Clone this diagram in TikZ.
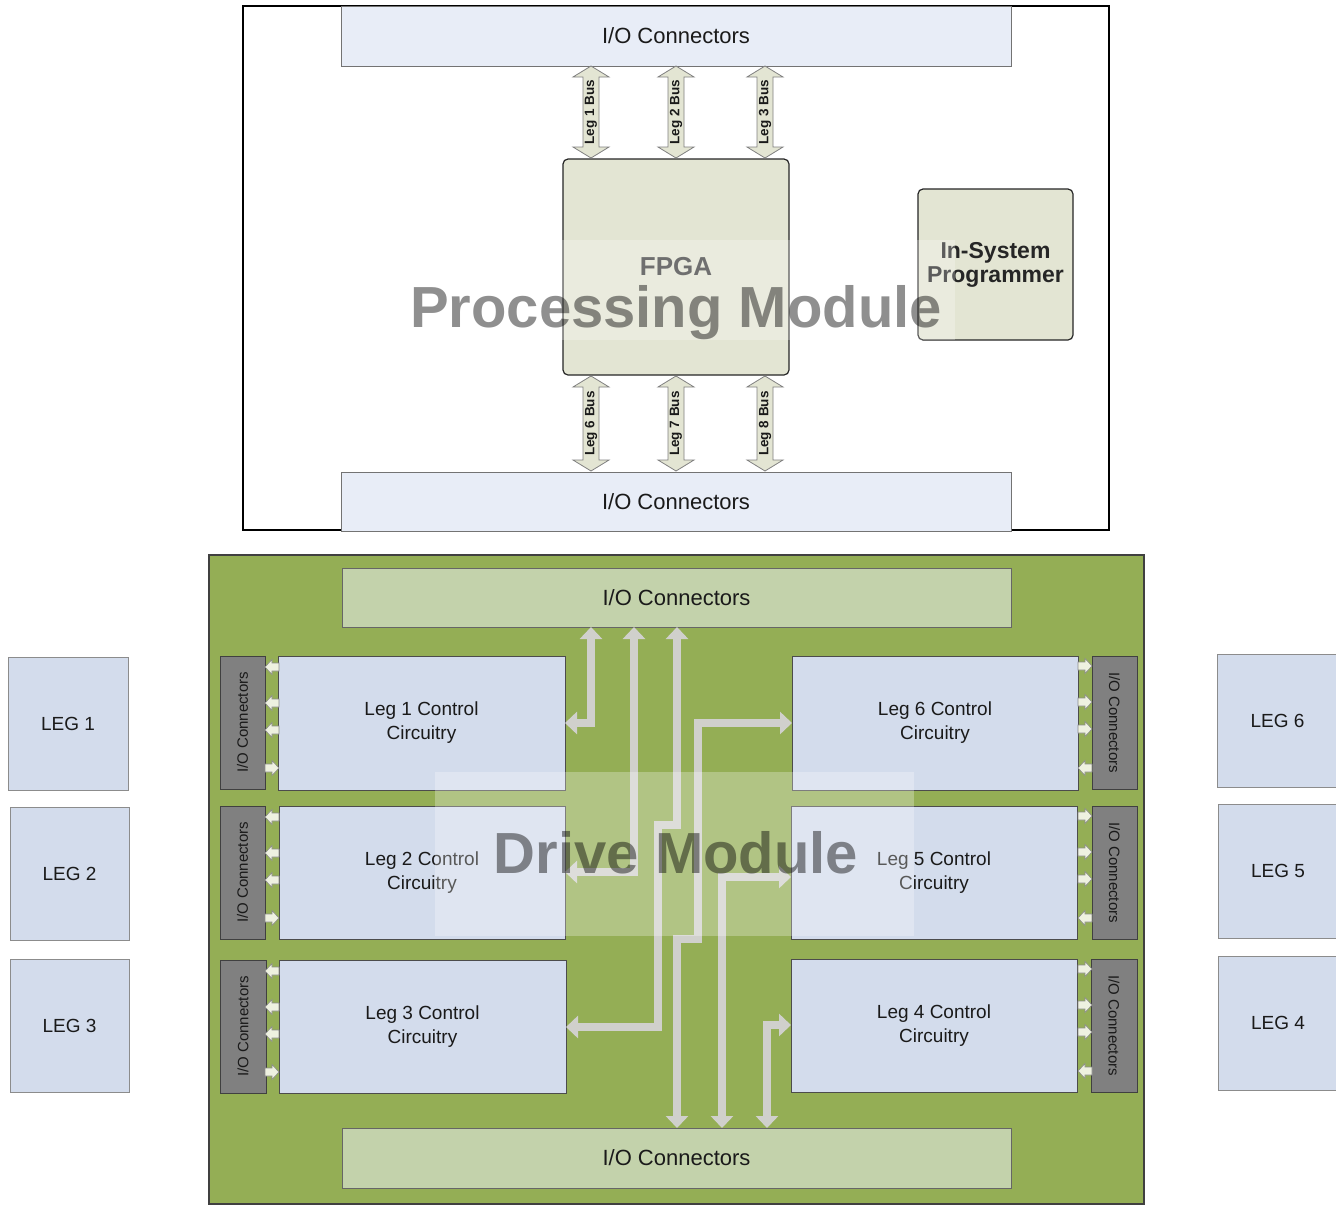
\documentclass[tikz,border=0pt]{standalone}
\usepackage{fontspec}
\setmainfont{Liberation Sans}
\usetikzlibrary{arrows.meta}
\definecolor{pioF}{HTML}{E8EDF7}
\definecolor{fpgaF}{HTML}{E3E5D3}
\definecolor{dmF}{HTML}{94AE55}
\definecolor{dioF}{HTML}{C3D2AB}
\definecolor{legF}{HTML}{D3DCEC}
\definecolor{barF}{HTML}{808080}
\definecolor{bigA}{HTML}{D0D0CC}
\definecolor{smA}{HTML}{EEF1E0}
\definecolor{txt}{HTML}{1A1A1A}
\newcommand\busarrow[5]{%
  \draw[bus] (#1,#2) -- ++(18,11) -- ++(-10,0) -- (#1+8,#3-11) -- ++(10,0) -- (#1,#3)
     -- ++(-18,-11) -- ++(10,0) -- (#1-8,#2+11) -- ++(-10,0) -- cycle;
  \node[buslab] (#4) at (#1,{(#2+#3)/2}) {#5};
}
\begin{document}
\begin{tikzpicture}[x=1pt,y=-1pt,
  box/.style={rectangle, inner sep=0pt, outer sep=0pt, text=txt, align=center},
  pio/.style={box, draw=black!55, line width=1pt, fill=pioF, minimum width=670pt, minimum height=60pt, font=\fontsize{22}{26}\selectfont},
  chip/.style={box, draw=black!85, line width=1.2pt, fill=fpgaF, rounded corners=5pt, font=\bfseries\fontsize{23}{24}\selectfont},
  bus/.style={draw=black!50, line width=0.8pt, fill=fpgaF},
  buslab/.style={rotate=90, font=\bfseries\fontsize{13.5}{14}\selectfont, text=txt, inner sep=0pt},
  dio/.style={pio, fill=dioF, draw=black!60},
  ctl/.style={box, draw=black!70, line width=1pt, fill=legF, minimum width=287pt, minimum height=134pt, font=\fontsize{19}{24}\selectfont},
  bar/.style={box, draw=black!75, line width=1pt, fill=barF, minimum width=133pt, minimum height=45pt, font=\fontsize{15}{18}\selectfont},
  leg/.style={box, draw=black!45, line width=1pt, fill=legF, minimum width=120pt, minimum height=133pt, font=\fontsize{19}{24}\selectfont},
  bigarr/.style={draw=bigA, line width=8pt, {Triangle[width=22pt,length=12pt]}-{Triangle[width=22pt,length=12pt]}},
  sarr/.style={draw=black!45, line width=0.6pt, fill=smA},
  wm/.style={inner sep=0pt, text=black, text opacity=0.44, font=\bfseries\fontsize{58}{60}\selectfont},
  sarrow/.pic={\draw[sarr] (0,-4) -- (7,-4) -- (7,-7.5) -- (14,0) -- (7,7.5) -- (7,4) -- (0,4) -- cycle;}
]
\useasboundingbox (0,0) rectangle (1336,1205);
\fill[white] (0,0) rectangle (1336,1205);

% ---------------- Processing module ----------------
\node[box, draw=black, line width=1.5pt, fill=white, minimum width=866pt, minimum height=524pt] (pm) at (676,268) {};
\node[pio] (ptop) at (676,36) {I/O Connectors};
\node[pio, minimum height=59pt] (pbot) at (676,501.5) {I/O Connectors};
\node[chip, minimum width=226pt, minimum height=216pt, font=\bfseries\fontsize{26}{28}\selectfont, text=black!75] (fpga) at (676,267) {FPGA};
\node[chip, minimum width=155pt, minimum height=151pt, text=black!85] (isp) at (995.5,264.5) {In-System\\Programmer};

\busarrow{591}{66}{158}{b1}{Leg 1 Bus}
\busarrow{676}{66}{158}{b2}{Leg 2 Bus}
\busarrow{765}{66}{158}{b3}{Leg 3 Bus}
\busarrow{591}{376}{471}{b6}{Leg 6 Bus}
\busarrow{676}{376}{471}{b7}{Leg 7 Bus}
\busarrow{765}{376}{471}{b8}{Leg 8 Bus}

\fill[white, opacity=0.25] (400,240) rectangle (955,340);
\node[wm, anchor=base] (pmt) at (676,327) {Processing Module};

% ---------------- Drive module ----------------
\node[box, draw=black!75, line width=1.5pt, fill=dmF, minimum width=935pt, minimum height=649pt] (dm) at (676.5,879.5) {};
\node[dio, minimum width=669pt, minimum height=59pt] (dtop) at (676.5,597.5) {I/O Connectors};
\node[dio, minimum width=669pt] (dbot) at (676.5,1158) {I/O Connectors};

\node[ctl] (leg1c) at (421.5,723) {Leg 1 Control\\Circuitry};
\node[ctl, minimum width=286pt, minimum height=133pt] (leg2c) at (422,872.5) {Leg 2 Control\\Circuitry};
\node[ctl, minimum height=133pt] (leg3c) at (422.5,1026.5) {Leg 3 Control\\Circuitry};
\node[ctl, minimum width=286pt] (leg6c) at (935,723) {Leg 6 Control\\Circuitry};
\node[ctl, minimum width=286pt, minimum height=133pt] (leg5c) at (934,872.5) {Leg 5 Control\\Circuitry};
\node[ctl, minimum width=286pt, minimum height=133pt] (leg4c) at (934,1025.5) {Leg 4 Control\\Circuitry};

\node[bar, rotate=90] (lio1) at (242.5,722.5) {I/O Connectors};
\node[bar, rotate=90] (lio2) at (242.5,872.5) {I/O Connectors};
\node[bar, rotate=90, minimum height=46pt] (lio3) at (243,1026.5) {I/O Connectors};
\node[bar, rotate=-90] (rio6) at (1114.5,722.5) {I/O Connectors};
\node[bar, rotate=-90] (rio5) at (1114.5,872.5) {I/O Connectors};
\node[bar, rotate=-90, minimum height=46pt] (rio4) at (1114,1025.5) {I/O Connectors};

% big bus arrows
\draw[bigarr] (591,0 |- dtop.south) -- (591,723) -- (leg1c.east |- 0,723);
\draw[bigarr] (634,0 |- dtop.south) -- (634,872) -- (leg2c.east |- 0,872);
\draw[bigarr] (677,0 |- dtop.south) -- (677,825) -- (658,825) -- (658,1027) -- (leg3c.east |- 0,1027);
\draw[bigarr] (leg6c.west |- 0,723) -- (698,723) -- (698,939) -- (677,939) -- (677,0 |- dbot.north);
\draw[bigarr] (leg5c.west |- 0,877) -- (722,877) -- (722,0 |- dbot.north);
\draw[bigarr] (leg4c.west |- 0,1025) -- (767,1025) -- (767,0 |- dbot.north);

% small connector arrows
\foreach \t in {656,806,960}{
  \foreach \d in {11,47,74} \pic[xscale=-1] at (279,\t+\d) {sarrow};
  \pic at (265,\t+112) {sarrow};
}
\foreach \t in {656,806,959}{
  \foreach \d in {10,46,73} \pic at (1078,\t+\d) {sarrow};
  \pic[xscale=-1] at (1092,\t+112) {sarrow};
}

\fill[white, opacity=0.28] (435,772) rectangle (914,936);
\node[wm, anchor=base] (dmt) at (676,873) {Drive Module};

% ---------------- legs ----------------
\node[leg] (L1) at (68,723.5) {LEG 1};
\node[leg, minimum width=119pt] (L2) at (69.5,873.5) {LEG 2};
\node[leg, minimum width=119pt] (L3) at (69.5,1025.5) {LEG 3};
\node[leg, minimum width=121pt] (L6) at (1277.5,720.5) {LEG 6};
\node[leg, minimum width=120pt, minimum height=134pt] (L5) at (1278,871) {LEG 5};
\node[leg, minimum width=120pt, minimum height=134pt] (L4) at (1278,1023) {LEG 4};
\end{tikzpicture}
\end{document}
